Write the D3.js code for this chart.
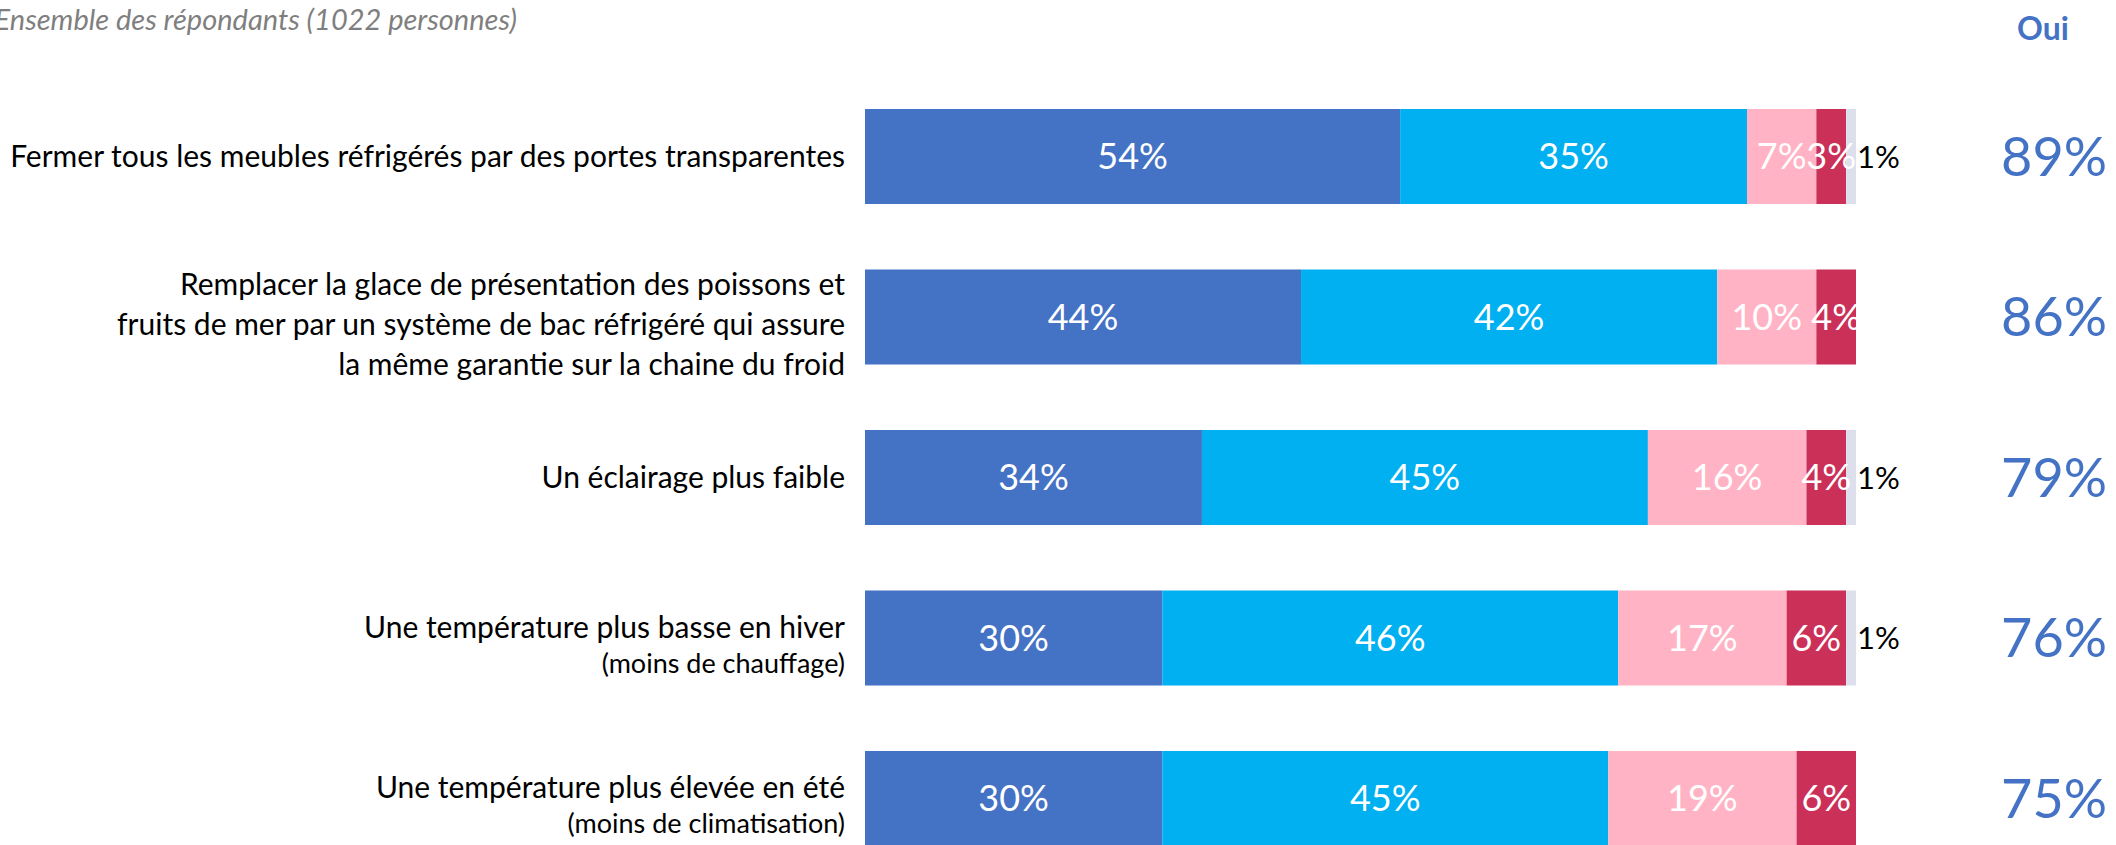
<!DOCTYPE html>
<html>
<head>
<meta charset="utf-8">
<script src="https://cdn.jsdelivr.net/npm/d3@7"></script>
<style>
  html, body { margin: 0; padding: 0; background: #fff; }
  svg { display: block; font-family: Lato, "Open Sans", sans-serif; }
</style>
</head>
<body>
<div id="chart"></div>
<script>
// rows, top to bottom (each label split into its printed lines)
const categories = [
  ["Fermer tous les meubles réfrigérés par des portes transparentes"],
  ["Remplacer la glace de présentation des poissons et",
   "fruits de mer par un système de bac réfrigéré qui assure",
   "la même garantie sur la chaine du froid"],
  ["Un éclairage plus faible"],
  ["Une température plus basse en hiver", "(moins de chauffage)"],
  ["Une température plus élevée en été", "(moins de climatisation)"]
];

const seriesKeys = ["Oui, tout à fait", "Oui, plutôt", "Non, plutôt pas", "Non, pas du tout", "Ne sait pas"];
const toutAFait = [54, 44, 34, 30, 30];
const plutot    = [35, 42, 45, 46, 45];
const plutotPas = [7, 10, 16, 17, 19];
const pasDuTout = [3, 4, 4, 6, 6];
const nsp       = [1, 0, 1, 1, 0];
const ouiTotal  = [89, 86, 79, 76, 75];

const subtitle = "Ensemble des répondants (1022 personnes)";
const ouiHeader = "Oui";

const colors = ["#4472c4", "#00b0f0", "#ffb3c5", "#cb3058", "#dde0ec"];
const labelColors = ["#fff", "#fff", "#fff", "#fff", "#000"];

const W = 2116, H = 845;
const svg = d3.select("#chart").append("svg")
  .attr("width", W).attr("height", H);

const rows = categories.map((c, i) => ({
  id: i,
  lines: c,
  [seriesKeys[0]]: toutAFait[i],
  [seriesKeys[1]]: plutot[i],
  [seriesKeys[2]]: plutotPas[i],
  [seriesKeys[3]]: pasDuTout[i],
  [seriesKeys[4]]: nsp[i]
}));

const x = d3.scaleLinear().domain([0, 100]).range([865, 1856]);
const y = d3.scaleBand().domain(rows.map(d => d.id))
  .range([109, 846]).paddingInner(0.408).paddingOuter(0);

const stacked = d3.stack().keys(seriesKeys)(rows);

// bars
const layers = svg.append("g").selectAll("g")
  .data(stacked)
  .enter().append("g")
  .attr("fill", (d, i) => colors[i]);

layers.selectAll("rect")
  .data(d => d.filter(p => p[1] - p[0] > 0))
  .enter().append("rect")
  .attr("x", d => x(d[0]))
  .attr("y", d => y(d.data.id))
  .attr("width", d => x(d[1]) - x(d[0]))
  .attr("height", y.bandwidth());

// value labels (the "ne sait pas" one sits outside, smaller and black)
stacked.forEach((layer, i) => {
  const last = i === seriesKeys.length - 1;
  svg.append("g").selectAll("text")
    .data(layer.filter(p => p[1] - p[0] > 0))
    .enter().append("text")
    .attr("x", d => last ? x(d[1]) + 1 : x((d[0] + d[1]) / 2))
    .attr("y", d => y(d.data.id) + y.bandwidth() / 2)
    .attr("dy", "0.36em")
    .attr("text-anchor", last ? "start" : "middle")
    .attr("fill", labelColors[i])
    .style("font-size", last ? "31px" : "36px")
    .text(d => (d[1] - d[0]) + "%");
});

// category labels
const labelX = 845;
rows.forEach(r => {
  const cy = y(r.id) + y.bandwidth() / 2;
  const n = r.lines.length;
  const heights = r.lines.map(l => l.startsWith("(") ? 36 : 40);
  const total = d3.sum(heights.slice(1));
  let yy = n > 1 ? cy - total / 2 + 7 : cy;
  const t = svg.append("g");
  r.lines.forEach((l, k) => {
    if (k > 0) yy += heights[k];
    t.append("text")
      .attr("x", labelX)
      .attr("y", yy)
      .attr("dy", "0.36em")
      .attr("text-anchor", "end")
      .attr("fill", "#000")
      .style("font-size", l.startsWith("(") ? "27px" : "30px")
      .text(l);
  });
});

// Oui column
svg.append("text")
  .attr("x", 2043).attr("y", 40)
  .attr("text-anchor", "middle")
  .attr("fill", "#4472c4")
  .style("font-size", "32px").style("font-weight", "bold")
  .text(ouiHeader);

svg.append("g").selectAll("text")
  .data(rows)
  .enter().append("text")
  .attr("x", 2107)
  .attr("y", d => y(d.id) + y.bandwidth() / 2)
  .attr("dy", "0.36em")
  .attr("text-anchor", "end")
  .attr("fill", "#4472c4")
  .style("font-size", "54px")
  .text(d => ouiTotal[d.id] + "%");

// subtitle, clipped at left edge as in the source
svg.append("text")
  .attr("x", 517).attr("y", 30)
  .attr("text-anchor", "end")
  .attr("fill", "#7f7f7f")
  .style("font-size", "29px").style("font-style", "italic")
  .text(subtitle);
</script>
</body>
</html>
